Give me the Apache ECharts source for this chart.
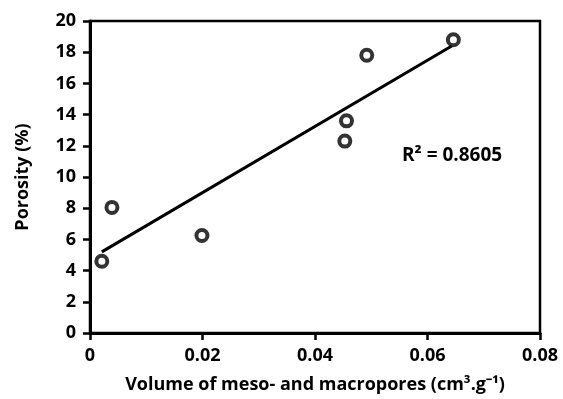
<!DOCTYPE html>
<html>
<head>
<meta charset="utf-8">
<script src="https://cdn.jsdelivr.net/npm/echarts@6/dist/echarts.min.js"></script>
<style>
  html, body { margin: 0; padding: 0; background: #fff; }
  #chart { width: 563px; height: 399px; }
</style>
</head>
<body>
<div id="chart"></div>
<script>
// measured points (volume cm3/g, porosity %)
const volume = [0.0021, 0.0039, 0.0199, 0.0456, 0.0453, 0.0492, 0.0646];
const porosity = [4.6, 8.05, 6.25, 13.6, 12.3, 17.8, 18.8];
// linear trend line endpoints
const trendX = [0.0021, 0.0643];
const trendY = [5.2, 18.4];
const r2Label = 'R² = 0.8605';

const font = '"Open Sans", sans-serif';
const chart = echarts.init(document.getElementById('chart'), null, { renderer: 'canvas' });

chart.setOption({
  animation: false,
  backgroundColor: '#fff',
  grid: {
    left: 90, right: 23, top: 21, bottom: 64,
    show: true,
    borderColor: '#000',
    borderWidth: 2.5,
    backgroundColor: 'transparent'
  },
  xAxis: {
    type: 'value',
    min: 0, max: 0.08, interval: 0.02,
    name: 'Volume of meso- and macropores (cm³.g⁻¹)',
    nameLocation: 'middle',
    nameGap: 43,
    nameTextStyle: { fontFamily: font, fontWeight: 'bold', fontSize: 18, color: '#000' },
    axisLine: { show: true, onZero: false, lineStyle: { color: '#000', width: 3 } },
    axisTick: { show: true, inside: false, length: 7, lineStyle: { color: '#000', width: 2.5 } },
    axisLabel: {
      fontFamily: font, fontWeight: 'bold', fontSize: 18, color: '#000', margin: 14,
      formatter: v => v === 0 ? '0' : v.toFixed(2)
    },
    splitLine: { show: false }
  },
  yAxis: {
    type: 'value',
    min: 0, max: 20, interval: 2,
    name: 'Porosity (%)',
    nameLocation: 'middle',
    nameGap: 58,
    nameTextStyle: { fontFamily: font, fontWeight: 'bold', fontSize: 18, color: '#000' },
    axisLine: { show: true, onZero: false, lineStyle: { color: '#000', width: 3 } },
    axisTick: { show: true, inside: false, length: 7, lineStyle: { color: '#000', width: 2.5 } },
    axisLabel: { fontFamily: font, fontWeight: 'bold', fontSize: 18, color: '#000', margin: 14 },
    splitLine: { show: false }
  },
  series: [
    {
      type: 'line',
      data: trendX.map((x, i) => [x, trendY[i]]),
      showSymbol: false,
      lineStyle: { color: '#000', width: 3 },
      z: 2
    },
    {
      type: 'scatter',
      data: volume.map((x, i) => [x, porosity[i]]),
      symbol: 'circle',
      symbolSize: 11,
      itemStyle: { color: '#fff', borderColor: '#000', borderWidth: 4 },
      z: 3
    }
  ],
  graphic: [
    {
      type: 'text',
      left: 402,
      top: 146,
      style: { text: r2Label, font: 'bold 19px ' + font, fill: '#000' }
    }
  ]
});
</script>
</body>
</html>
